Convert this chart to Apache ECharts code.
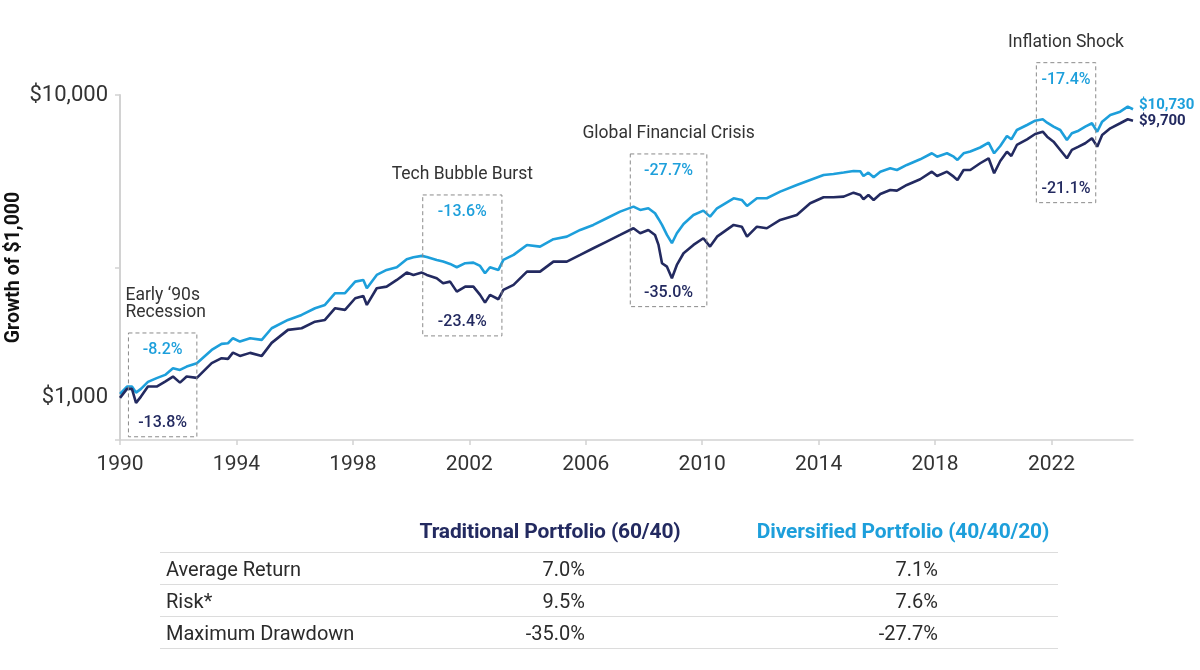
<!DOCTYPE html>
<html>
<head>
<meta charset="utf-8">
<script src="https://cdn.jsdelivr.net/npm/echarts@6.0.0/dist/echarts.min.js"></script>
<style>
  body { margin: 0; background: #fff; }
  #wrap { position: relative; width: 1200px; height: 670px; font-family: Roboto, "Noto Sans", sans-serif; }
  #main { position: absolute; left: 0; top: 0; width: 1200px; height: 670px; }
  .t { position: absolute; white-space: nowrap; color: #2b2b2b; }
  .hd { font-weight: 700; font-size: 21px; letter-spacing: -0.15px; transform: translate(-50%, -50%); }
  .cell { font-size: 20px; transform: translateY(-50%); }
  .num { font-size: 20px; transform: translate(-100%, -50%); }
  .rule { position: absolute; left: 160px; width: 898px; height: 0; border-top: 1.5px solid #dcdcdc; }
</style>
</head>
<body>
<div id="wrap">
  <div id="main"></div>
  <div id="table"></div>
</div>
<script>
// growth of $1,000 (decimal years)
const dates = [
  1990.0, 1990.24, 1990.41, 1990.55, 1990.72, 1990.96, 1991.26, 1991.55, 1991.82, 1992.06,
  1992.29, 1992.64, 1993.15, 1993.49, 1993.71, 1993.88, 1994.12, 1994.47, 1994.87, 1995.21,
  1995.77, 1996.24, 1996.70, 1997.04, 1997.39, 1997.73, 1998.08, 1998.36, 1998.48, 1998.82,
  1999.16, 1999.51, 1999.85, 2000.08, 2000.37, 2000.54, 2000.88, 2001.10, 2001.34, 2001.57,
  2001.86, 2002.14, 2002.37, 2002.54, 2002.71, 2003.00, 2003.17, 2003.52, 2003.98, 2004.43,
  2004.89, 2005.35, 2005.81, 2006.26, 2006.72, 2007.18, 2007.64, 2007.87, 2008.15, 2008.38,
  2008.50, 2008.62, 2008.79, 2008.96, 2009.13, 2009.36, 2009.70, 2010.04, 2010.27, 2010.51,
  2011.08, 2011.36, 2011.54, 2011.88, 2012.22, 2012.68, 2013.25, 2013.71, 2014.17, 2014.51,
  2014.86, 2015.20, 2015.43, 2015.54, 2015.71, 2015.89, 2016.12, 2016.46, 2016.69, 2017.03,
  2017.49, 2017.89, 2018.07, 2018.41, 2018.64, 2018.77, 2018.98, 2019.21, 2019.55, 2019.84,
  2020.03, 2020.24, 2020.47, 2020.62, 2020.81, 2021.16, 2021.44, 2021.70, 2021.85, 2022.07,
  2022.30, 2022.53, 2022.70, 2022.93, 2023.16, 2023.39, 2023.57, 2023.74, 2024.02, 2024.36,
  2024.62, 2024.80
];
const traditional = [
  1000, 1071, 1071, 963, 1010, 1090, 1090, 1132, 1176, 1123,
  1176, 1164, 1302, 1352, 1345, 1411, 1376, 1408, 1376, 1519,
  1677, 1698, 1785, 1809, 1977, 1952, 2133, 2171, 2027, 2301,
  2330, 2451, 2592, 2547, 2592, 2547, 2483, 2390, 2420, 2243,
  2330, 2330, 2188, 2063, 2188, 2117, 2272, 2360, 2611, 2611,
  2818, 2818, 2965, 3119, 3281, 3451, 3631, 3496, 3585, 3451,
  3199, 2784, 2712, 2483, 2747, 3003, 3199, 3366, 3158, 3407,
  3724, 3675, 3407, 3675, 3631, 3868, 4018, 4391, 4597, 4597,
  4618, 4760, 4677, 4527, 4677, 4503, 4713, 4859, 4833, 5047,
  5270, 5583, 5403, 5583, 5375, 5242, 5655, 5655, 5952, 6182,
  5515, 6056, 6500, 6291, 6839, 7141, 7433, 7564, 7283, 7013,
  6585, 6182, 6585, 6751, 6928, 7196, 6751, 7379, 7764, 8066,
  8315, 8228
];
const diversified = [
  1030, 1090, 1090, 1041, 1071, 1129, 1162, 1191, 1253, 1237,
  1269, 1302, 1440, 1508, 1515, 1574, 1534, 1574, 1554, 1698,
  1809, 1879, 1977, 2027, 2216, 2216, 2420, 2451, 2301, 2547,
  2645, 2700, 2870, 2914, 2943, 2920, 2854, 2818, 2769, 2700,
  2784, 2797, 2727, 2580, 2700, 2645, 2854, 2965, 3199, 3158,
  3341, 3407, 3585, 3724, 3918, 4120, 4280, 4173, 4227, 4070,
  3897, 3724, 3451, 3241, 3496, 3752, 4018, 4151, 3966, 4227,
  4561, 4503, 4302, 4561, 4561, 4797, 5047, 5242, 5445, 5486,
  5549, 5613, 5602, 5403, 5541, 5350, 5583, 5729, 5655, 5875,
  6134, 6421, 6257, 6421, 6257, 6102, 6421, 6509, 6709, 6958,
  6421, 6787, 7322, 7141, 7664, 7962, 8228, 8315, 8104, 7860,
  7664, 7103, 7472, 7623, 7860, 8066, 7564, 8166, 8590, 8809,
  9150, 8971
];
const seriesNames = ['Traditional Portfolio (60/40)', 'Diversified Portfolio (40/40/20)'];
const endLabels = ['$9,700', '$10,730'];
const xTickYears = [1990, 1994, 1998, 2002, 2006, 2010, 2014, 2018, 2022];
const yLabelValues = [1000, 10000];

// crisis boxes: [start, end, top value, bottom value]
const eventNames = ['Early \u201890s\nRecession', 'Tech Bubble Burst', 'Global Financial Crisis', 'Inflation Shock'];
const eventBoxes = [
  [1990.29, 1992.64, 1638, 744],
  [2000.40, 2003.12, 4677, 1602],
  [2007.53, 2010.16, 6388, 2001],
  [2021.48, 2023.52, 12785, 4411]
];
const drawdownTrad = ['-13.8%', '-23.4%', '-35.0%', '-21.1%'];
const drawdownDiv = ['-8.2%', '-13.6%', '-27.7%', '-17.4%'];

// summary table
const statNames = ['Average Return', 'Risk*', 'Maximum Drawdown'];
const statTrad = ['7.0%', '9.5%', '-35.0%'];
const statDiv = ['7.1%', '7.6%', '-27.7%'];

const NAVY = '#232a60';
const BLUE = '#1d9fdb';
const yMin = 726, yMax = 10000;

let chart = echarts.init(document.getElementById('main'), null, { renderer: 'canvas' });

let option = {
  animation: false,
  grid: { left: 120, right: 67, top: 95, bottom: 230, containLabel: false, outerBoundsMode: 'none' },
  xAxis: {
    type: 'value',
    min: 1990,
    max: 2024.8,
    axisLine: { show: true, lineStyle: { color: '#d2d2d2', width: 1.5 } },
    axisTick: { show: true, length: 5, customValues: xTickYears, lineStyle: { color: '#d2d2d2', width: 1.5 } },
    axisLabel: { customValues: xTickYears, color: '#333', fontSize: 21, margin: 14, fontFamily: 'Roboto', formatter: v => String(v) },
    splitLine: { show: false }
  },
  yAxis: {
    type: 'log',
    logBase: 10,
    min: yMin,
    max: yMax,
    name: 'Growth of $1,000',
    nameLocation: 'middle',
    nameRotate: 90,
    nameGap: 96,
    nameMoveOverlap: false,
    nameTextStyle: { fontSize: 19.5, fontWeight: 'bold', color: '#111', fontFamily: 'Roboto' },
    axisLine: { show: true, lineStyle: { color: '#d2d2d2', width: 2 } },
    axisTick: { show: true, length: 5, customValues: [yMin, Math.sqrt(yMin * yMax), yMax], lineStyle: { color: '#d2d2d2', width: 1.5 } },
    axisLabel: {
      customValues: yLabelValues,
      color: '#333', fontSize: 22, margin: 12, fontFamily: 'Roboto',
      formatter: v => '$' + Math.round(v).toLocaleString('en-US')
    },
    splitLine: { show: false }
  },
  series: [
    {
      name: seriesNames[0],
      type: 'line',
      showSymbol: false,
      data: dates.map((d, i) => [d, traditional[i]]),
      lineStyle: { color: NAVY, width: 2.6 },
      itemStyle: { color: NAVY },
      endLabel: { show: true, formatter: () => endLabels[0], color: NAVY, fontSize: 15, fontWeight: 'bold', distance: 6, offset: [0, 1], fontFamily: 'Roboto' },
      z: 3
    },
    {
      name: seriesNames[1],
      type: 'line',
      showSymbol: false,
      data: dates.map((d, i) => [d, diversified[i]]),
      lineStyle: { color: BLUE, width: 2.6 },
      itemStyle: { color: BLUE },
      endLabel: { show: true, formatter: () => endLabels[1], color: BLUE, fontSize: 15, fontWeight: 'bold', distance: 6, offset: [0, -4], fontFamily: 'Roboto' },
      z: 2
    }
  ]
};
chart.setOption(option);

// dashed crisis boxes and their labels, placed through the chart's own scales
let graphics = [];
eventBoxes.forEach((b, i) => {
  let p0 = chart.convertToPixel({ gridIndex: 0 }, [b[0], b[2]]);
  let p1 = chart.convertToPixel({ gridIndex: 0 }, [b[1], b[3]]);
  let cx = (p0[0] + p1[0]) / 2;
  graphics.push({
    type: 'rect', silent: true, z: 10,
    shape: { x: p0[0], y: p0[1], width: p1[0] - p0[0], height: p1[1] - p0[1] },
    style: { fill: 'none', stroke: '#8a8a8a', lineWidth: 1, lineDash: [4, 3] }
  });
  graphics.push({
    type: 'text', z: 11, x: cx, y: p0[1] + 17,
    style: { text: drawdownDiv[i], fill: BLUE, font: '500 16px Roboto', textAlign: 'center', verticalAlign: 'middle' }
  });
  graphics.push({
    type: 'text', z: 11, x: cx, y: p1[1] - 14,
    style: { text: drawdownTrad[i], fill: NAVY, font: '500 16px Roboto', textAlign: 'center', verticalAlign: 'middle' }
  });
  if (i === 0) {
    graphics.push({
      type: 'text', z: 11, x: p0[0] - 3, y: p0[1] - 29,
      style: { text: eventNames[i], fill: '#333', font: '17.5px Roboto', textAlign: 'left', verticalAlign: 'middle', lineHeight: 17 }
    });
  } else {
    graphics.push({
      type: 'text', z: 11, x: cx, y: p0[1] - 20,
      style: { text: eventNames[i], fill: '#333', font: '17.5px Roboto', textAlign: 'center', verticalAlign: 'middle' }
    });
  }
});
chart.setOption({ graphic: graphics });

// table under the chart
let tbl = document.getElementById('table');
let html = '';
html += '<div class="t hd" style="left:550px;top:531px;color:' + NAVY + '">' + seriesNames[0] + '</div>';
html += '<div class="t hd" style="left:903px;top:531px;color:' + BLUE + '">' + seriesNames[1] + '</div>';
[552, 584, 616, 648].forEach(y => { html += '<div class="rule" style="top:' + y + 'px"></div>'; });
statNames.forEach((n, i) => {
  let y = 569 + i * 32;
  html += '<div class="t cell" style="left:166px;top:' + y + 'px">' + n + '</div>';
  html += '<div class="t num" style="left:585px;top:' + y + 'px">' + statTrad[i] + '</div>';
  html += '<div class="t num" style="left:938px;top:' + y + 'px">' + statDiv[i] + '</div>';
});
tbl.innerHTML = html;
</script>
</body>
</html>
